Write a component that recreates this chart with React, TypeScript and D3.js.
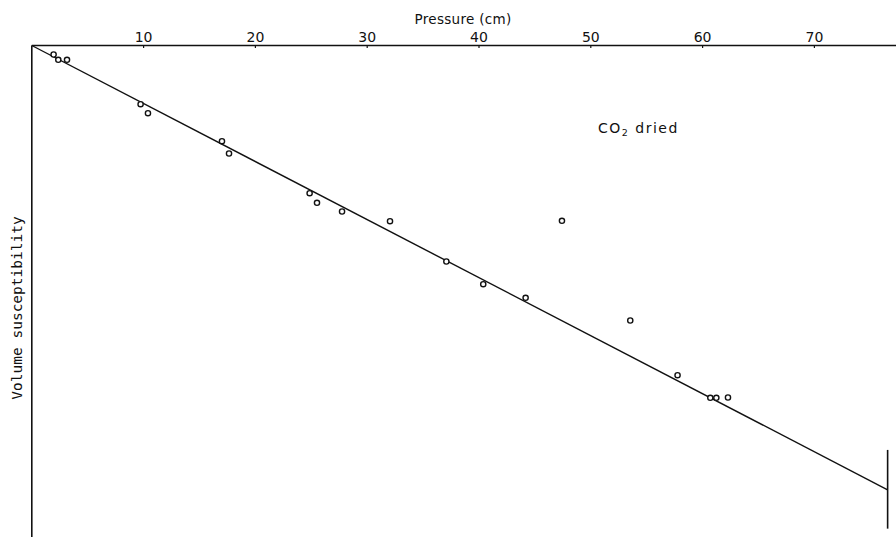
import React from "react";
import * as d3 from "d3";

// Pressure (cm) of each measurement
const pressure = [1.95, 2.37, 3.15, 9.73, 10.39, 17.01, 17.64, 24.85, 25.51, 27.75, 32.04, 47.42, 37.08, 40.38, 44.17, 53.53, 57.76, 60.69, 61.23, 62.27];
// Volume susceptibility (relative units, decreasing downward)
const susceptibility = [-1.83, -2.91, -2.91, -11.93, -13.76, -19.45, -21.95, -30.02, -31.97, -33.74, -35.71, -35.63, -43.9, -48.52, -51.28, -55.89, -67.01, -71.61, -71.61, -71.54];
// Fitted straight line end points
const fitX = [0, 76.55];
const fitY = [0, -90.3];
// Right-hand marker line
const markerX = 76.55;
const markerY = [-82.2, -98.2];
const xTicks = [10, 20, 30, 40, 50, 60, 70];

const W = 896;
const H = 537;

export default function App() {
  const x = d3.scaleLinear().domain([0, 10]).range([31.8, 143.6]);
  const y = d3.scaleLinear().domain([0, -100]).range([45.5, 537.5]);
  const line = d3.line<number>().x((d) => x(fitX[d])).y((d) => y(fitY[d]));
  const mono = "'DejaVu Sans Mono', monospace";
  const sans = "'DejaVu Sans', sans-serif";
  return (
    <svg width={W} height={H} style={{ position: "absolute", left: 0, top: 0, background: "#fff" }}>
      <rect width={W} height={H} fill="#fff" />
      {/* top axis */}
      <line x1={x(0)} x2={W} y1={y(0)} y2={y(0)} stroke="#111" strokeWidth={1.6} />
      {/* left axis */}
      <line x1={x(0)} x2={x(0)} y1={y(0)} y2={H} stroke="#111" strokeWidth={1.6} />
      {xTicks.map((t) => (
        <g key={t}>
          <line x1={x(t)} x2={x(t)} y1={y(0)} y2={y(0) + 2.5} stroke="#111" strokeWidth={1.2} />
          <text x={x(t)} y={y(0) - 4} textAnchor="middle" fontFamily={sans} fontSize={14} fill="#111">
            {t}
          </text>
        </g>
      ))}
      <text x={463} y={24} textAnchor="middle" fontFamily={sans} fontSize={13.5} fill="#111" letterSpacing={0.3}>
        Pressure (cm)
      </text>
      <text
        transform={`translate(22, 308) rotate(-90)`}
        textAnchor="middle"
        fontFamily={mono}
        fontSize={14.5}
        fill="#111"
      >
        Volume susceptibility
      </text>
      <text x={598} y={133} fontFamily={sans} fontSize={14} fill="#111" letterSpacing={1.5}>
        CO<tspan fontSize={9.5} dy={3}>2</tspan>
        <tspan dy={-3}> dried</tspan>
      </text>
      <path d={line([0, 1]) || ""} fill="none" stroke="#111" strokeWidth={1.4} />
      <line x1={x(markerX)} x2={x(markerX)} y1={y(markerY[0])} y2={y(markerY[1])} stroke="#111" strokeWidth={1.6} />
      {pressure.map((p, i) => (
        <circle key={i} cx={x(p)} cy={y(susceptibility[i])} r={2.6} fill="#fff" stroke="#111" strokeWidth={1.4} />
      ))}
    </svg>
  );
}
